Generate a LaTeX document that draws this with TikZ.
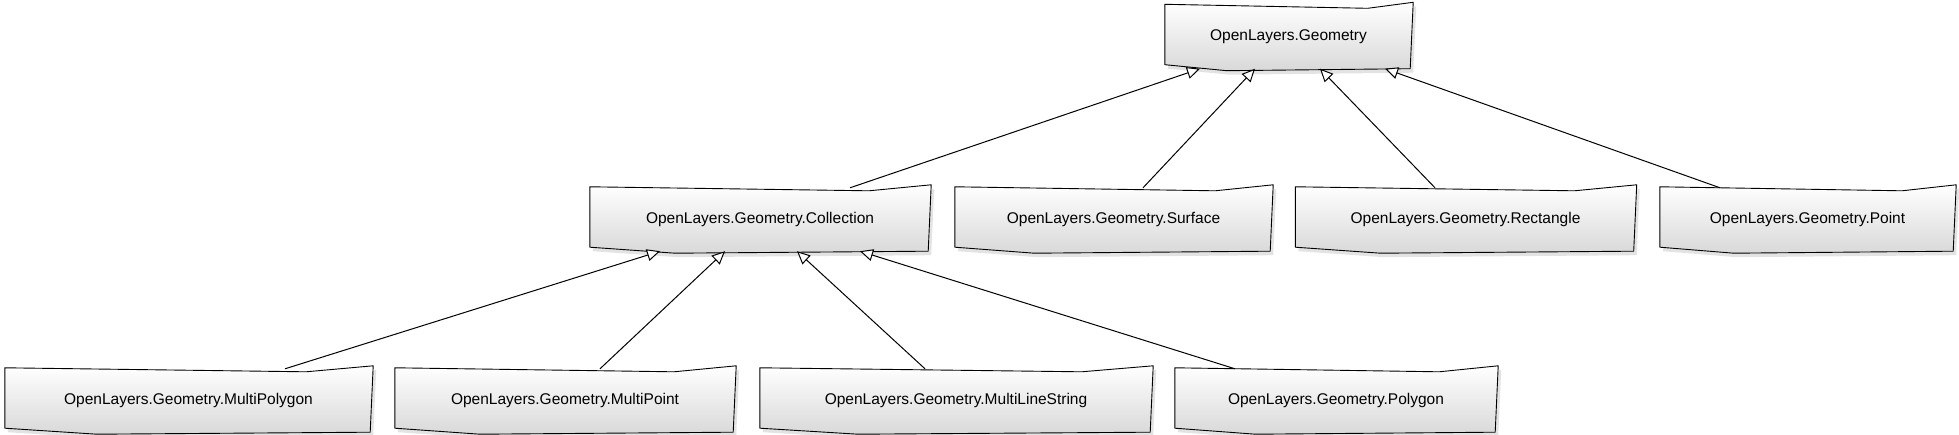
\documentclass[tikz,border=0pt]{standalone}
\usepackage{fontspec}
\setmainfont{Liberation Sans}
\usetikzlibrary{arrows.meta,shadows,calc,backgrounds}
\tikzset{
 cls/.style={draw=none, inner sep=0pt, minimum height=63pt, font=\fontsize{15.5}{18}\selectfont},
 sketchfill/.style={draw=black, line width=0.9pt, line join=round, top color=white, bottom color=black!15,
   drop shadow={opacity=0.22, shadow xshift=3pt, shadow yshift=-4pt}},
 inh/.style={draw=black, line width=1pt, -{Triangle[fill=white, length=13pt, width=12pt]}},
}
\newcommand\sketchbox[1]{\path[sketchfill] ($(#1.north west)+(0,-1)$) -- ($(#1.north west)!0.82!(#1.north east)+(0,3)$) -- ($(#1.north east)+(1,-3)$) -- ($(#1.south east)+(-2,0)$) -- ($(#1.south west)!0.25!(#1.south east)+(0,2)$) -- ($(#1.south west)+(0,-4)$) -- cycle;}
\begin{document}
\begin{tikzpicture}[x=1pt,y=-1pt]
\useasboundingbox (0,0) rectangle (1959,435);
\node[cls, minimum width=247pt] (geo) at (1288.5,37) {OpenLayers.Geometry};
\node[cls, minimum width=340pt] (coll) at (760,219.5) {OpenLayers.Geometry.Collection};
\node[cls, minimum width=317pt] (surf) at (1113.5,219.5) {OpenLayers.Geometry.Surface};
\node[cls, minimum width=340pt] (rect) at (1465.5,219.5) {OpenLayers.Geometry.Rectangle};
\node[cls, minimum width=295pt] (point) at (1807.5,219.5) {OpenLayers.Geometry.Point};
\node[cls, minimum width=367pt] (mpoly) at (188.5,400.5) {OpenLayers.Geometry.MultiPolygon};
\node[cls, minimum width=340pt] (mpoint) at (565,400.5) {OpenLayers.Geometry.MultiPoint};
\node[cls, minimum width=392pt] (mline) at (956,400.5) {OpenLayers.Geometry.MultiLineString};
\node[cls, minimum width=322pt] (poly) at (1336,400.5) {OpenLayers.Geometry.Polygon};
\begin{scope}[on background layer]
\foreach \n in {geo,coll,surf,rect,point,mpoly,mpoint,mline,poly} {\sketchbox{\n}}
\end{scope}
\draw[inh] ([xshift=90pt]coll.north) -- ([xshift=-88.5pt]geo.south);
\draw[inh] ([xshift=29.5pt]surf.north) -- ([xshift=-33.5pt]geo.south);
\draw[inh] ([xshift=-30.5pt]rect.north) -- ([xshift=31.5pt]geo.south);
\draw[inh] ([xshift=-87.5pt]point.north) -- ([xshift=96.5pt]geo.south);
\draw[inh] ([xshift=96.5pt]mpoly.north) -- ([xshift=-100pt]coll.south);
\draw[inh] ([xshift=35pt]mpoint.north) -- ([xshift=-35pt]coll.south);
\draw[inh] ([xshift=-31pt]mline.north) -- ([xshift=37pt]coll.south);
\draw[inh] ([xshift=-101pt]poly.north) -- ([xshift=100pt]coll.south);
\end{tikzpicture}
\end{document}
